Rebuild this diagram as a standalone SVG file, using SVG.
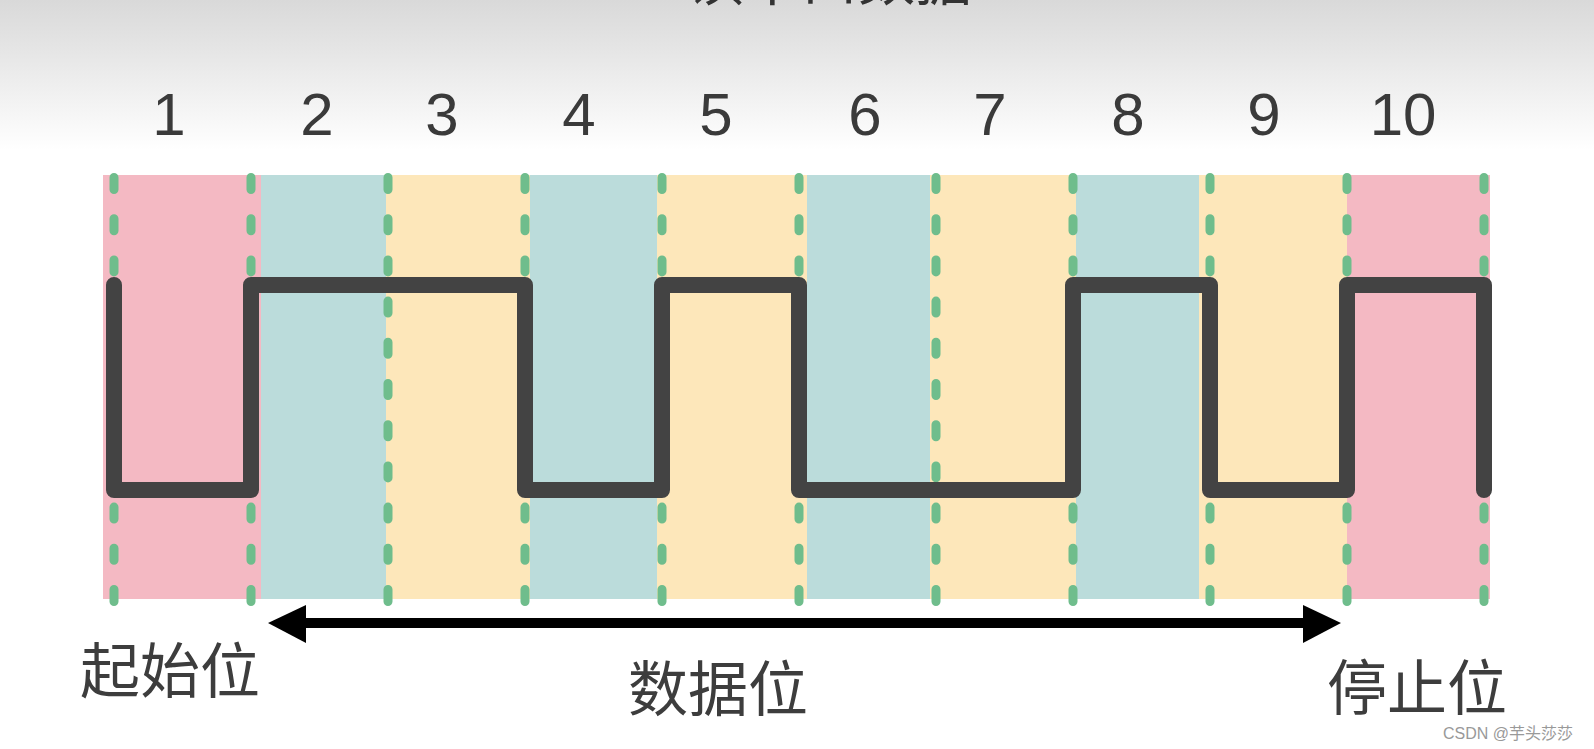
<svg xmlns="http://www.w3.org/2000/svg" width="1594" height="749" viewBox="0 0 1594 749">
<defs>
<linearGradient id="bg" x1="0" y1="0" x2="0" y2="150" gradientUnits="userSpaceOnUse">
<stop offset="0" stop-color="#d9d9d9"/>
<stop offset="0.3" stop-color="#e4e4e4"/>
<stop offset="1" stop-color="#ffffff"/>
</linearGradient>
<style>
.pink{fill:#f4b9c3}
.teal{fill:#bbdcdb}
.yel{fill:#fde7ba}
.dash{stroke:#6fbd8c;stroke-width:9;stroke-linecap:round;stroke-dasharray:12 29.2;fill:none}
.wave{stroke:#434343;stroke-width:16;stroke-linecap:round;stroke-linejoin:round;fill:none}
.num{font-family:"Liberation Sans",Arial,sans-serif;font-size:60px;fill:#3a3a3a;text-anchor:middle}
.cjk{font-family:"Noto Sans CJK SC","Noto Sans",sans-serif;font-size:60px;fill:#3d3d3d}
.arrow{fill:#000}
</style>
</defs>
<rect x="0" y="0" width="1594" height="749" fill="#ffffff"/>
<rect x="0" y="0" width="1594" height="150" fill="url(#bg)"/>
<text x="687" y="0" class="cjk" style="font-size:57px;fill:#333">读串口数据</text>
<g id="numbers">
<text x="169" y="135" class="num">1</text>
<text x="317" y="135" class="num">2</text>
<text x="442" y="135" class="num">3</text>
<text x="579" y="135" class="num">4</text>
<text x="716" y="135" class="num">5</text>
<text x="865" y="135" class="num">6</text>
<text x="990" y="135" class="num">7</text>
<text x="1128" y="135" class="num">8</text>
<text x="1264" y="135" class="num">9</text>
<text x="1403" y="135" class="num">10</text>
</g>
<g id="bands">
<rect id="bit1" class="pink" x="103" y="175" width="158" height="424"/>
<rect id="bit2" class="teal" x="261" y="175" width="125" height="424"/>
<rect id="bit3" class="yel" x="386" y="175" width="144" height="424"/>
<rect id="bit4" class="teal" x="530" y="175" width="127" height="424"/>
<rect id="bit5" class="yel" x="657" y="175" width="150" height="424"/>
<rect id="bit6" class="teal" x="807" y="175" width="123" height="424"/>
<rect id="bit7" class="yel" x="930" y="175" width="146" height="424"/>
<rect id="bit8" class="teal" x="1076" y="175" width="123" height="424"/>
<rect id="bit9" class="yel" x="1199" y="175" width="148" height="424"/>
<rect id="bit10" class="pink" x="1347" y="175" width="143" height="424"/>
</g>
<g id="gridlines">
<line class="dash" x1="114" y1="177.5" x2="114" y2="602"/>
<line class="dash" x1="251" y1="177.5" x2="251" y2="602"/>
<line class="dash" x1="388" y1="177.5" x2="388" y2="602"/>
<line class="dash" x1="525" y1="177.5" x2="525" y2="602"/>
<line class="dash" x1="662" y1="177.5" x2="662" y2="602"/>
<line class="dash" x1="799" y1="177.5" x2="799" y2="602"/>
<line class="dash" x1="936" y1="177.5" x2="936" y2="602"/>
<line class="dash" x1="1073" y1="177.5" x2="1073" y2="602"/>
<line class="dash" x1="1210" y1="177.5" x2="1210" y2="602"/>
<line class="dash" x1="1347" y1="177.5" x2="1347" y2="602"/>
<line class="dash" x1="1484" y1="177.5" x2="1484" y2="602"/>
</g>
<g id="waveform">
<path class="wave" d="M114 285 V490 H251 V285 H525 V490 H662 V285 H799 V490 H1073 V285 H1210 V490 H1347 V285 H1484 V490"/>
</g>
<g id="connectors">
<rect class="arrow" x="300" y="618" width="1008" height="10"/>
<polygon class="arrow" points="268,623 306,605 306,643"/>
<polygon class="arrow" points="1341,623 1303,605 1303,643"/>
</g>
<g id="label-start"><text x="80" y="693" class="cjk">起始位</text></g>
<g id="label-data"><text x="628" y="711" class="cjk">数据位</text></g>
<g id="label-stop"><text x="1327" y="710" class="cjk">停止位</text></g>
<text x="1443" y="739" style="font-family:'Liberation Sans','Noto Sans CJK SC',sans-serif;font-size:16px;fill:#999">CSDN @芋头莎莎</text>
</svg>
